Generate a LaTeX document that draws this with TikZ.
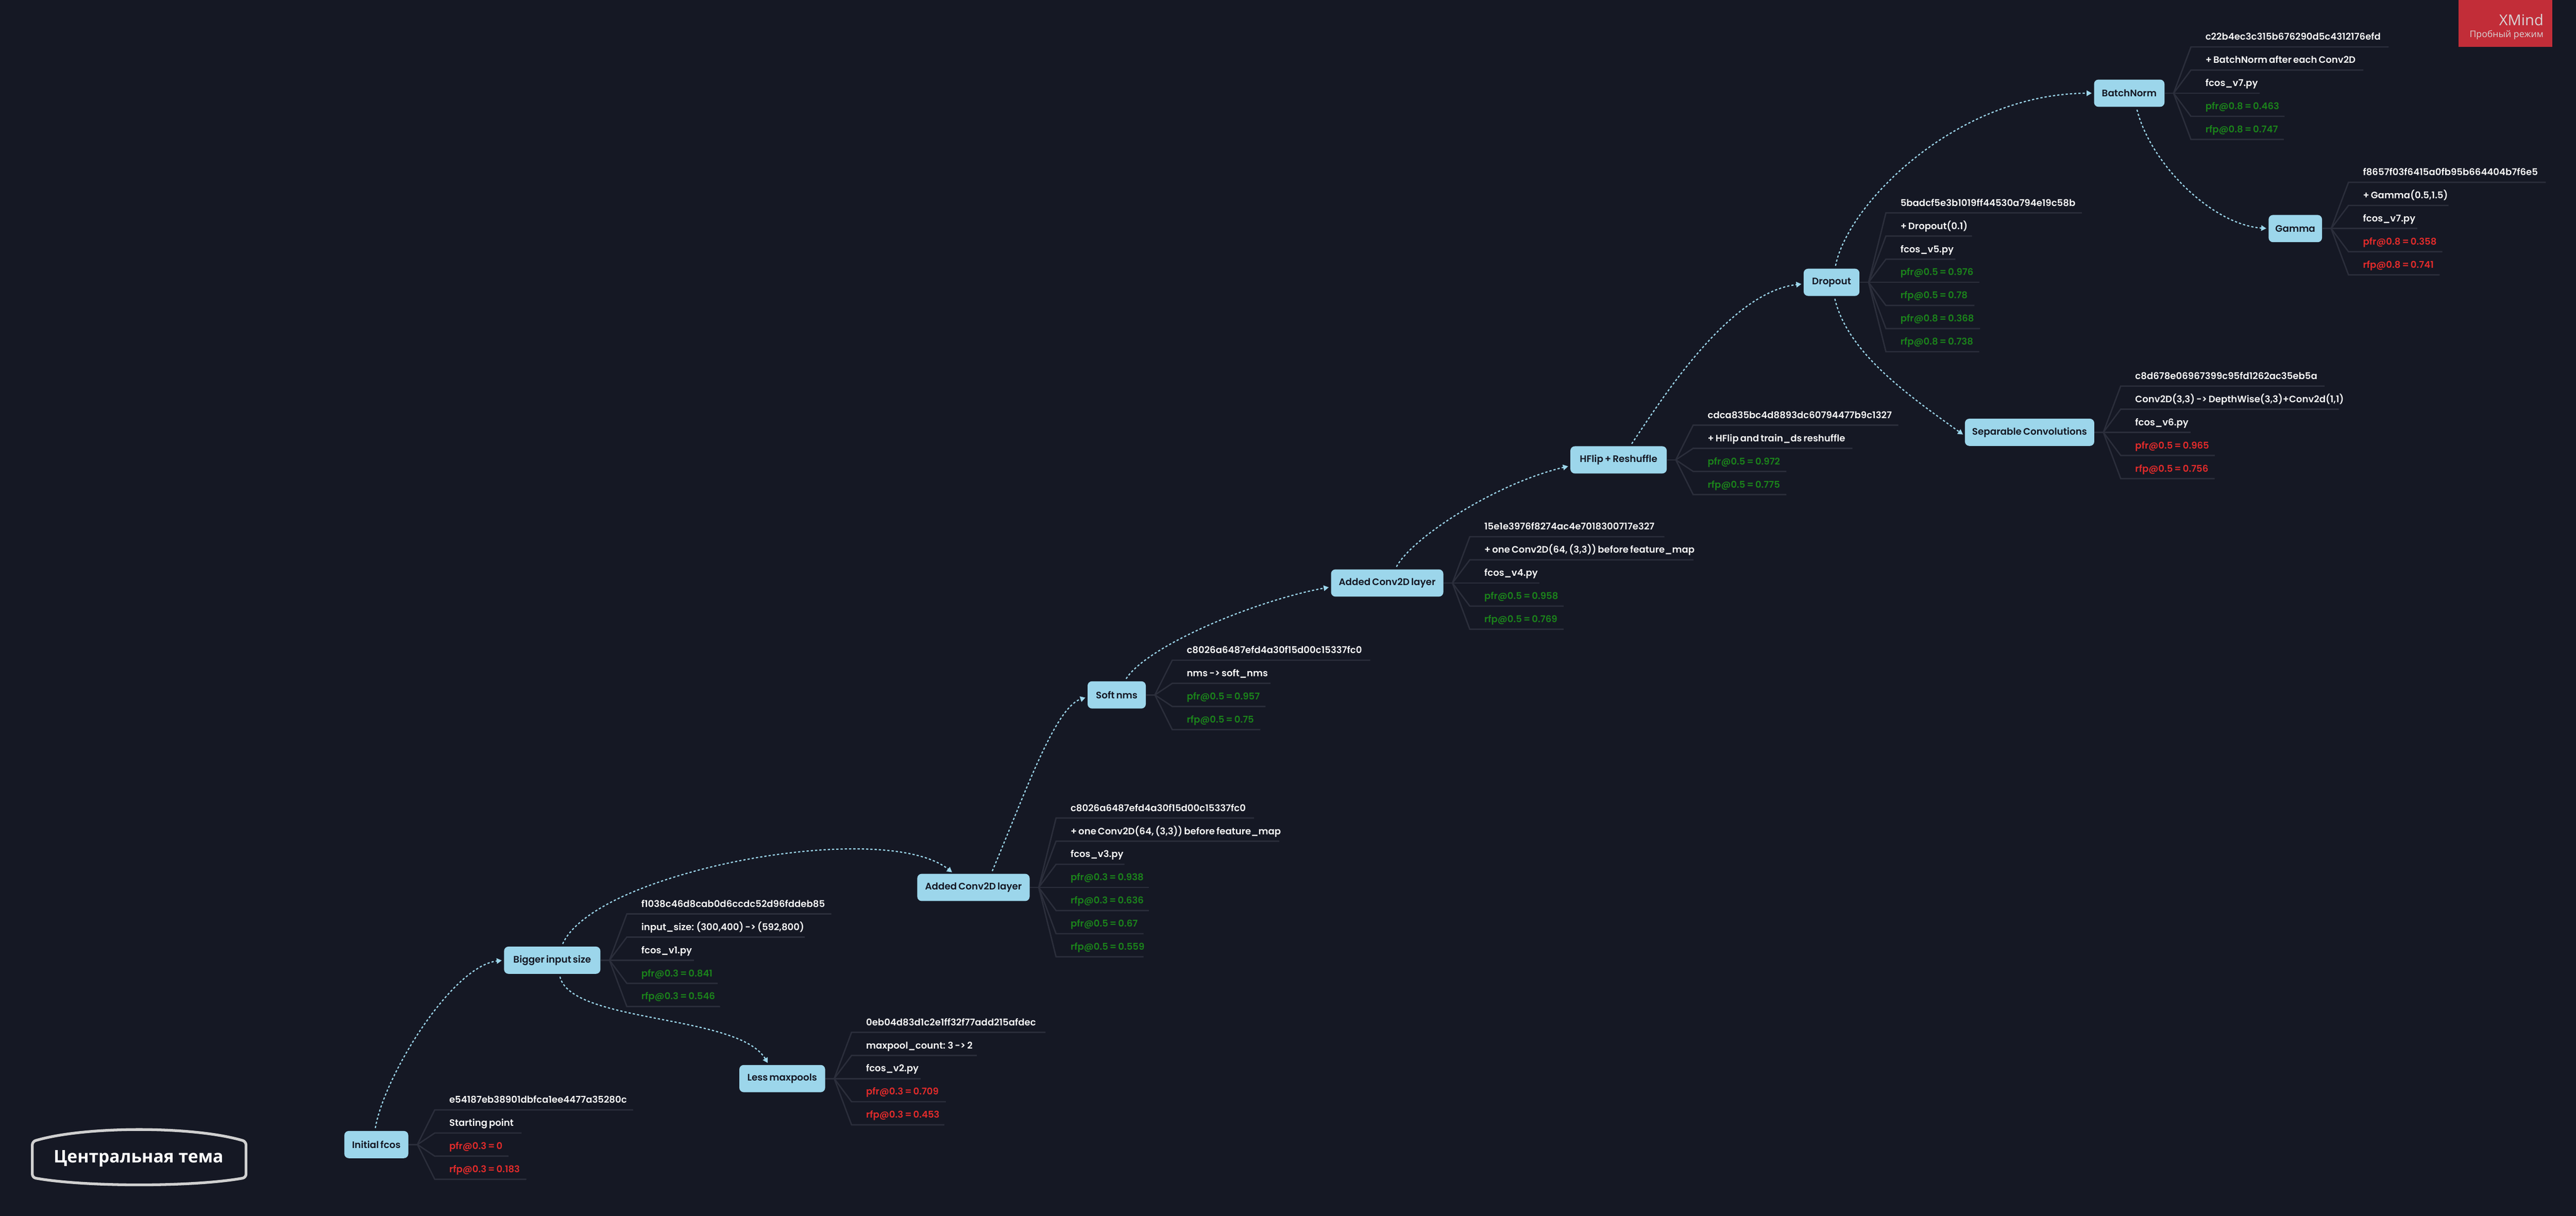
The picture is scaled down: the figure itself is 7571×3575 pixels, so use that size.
\documentclass[tikz,border=0pt]{standalone}
\usepackage{fontspec}
\usetikzlibrary{arrows.meta, calc}
\setmainfont{Poppins}[BoldFont={Poppins SemiBold}, WordSpace=0.7]
\newfontfamily\cyrfont{Open Sans}

\definecolor{canvas}{HTML}{151824}
\definecolor{topicblue}{HTML}{9CD6EB}
\definecolor{twigline}{HTML}{2B2E3B}
\definecolor{leafwhite}{HTML}{F5F5F5}
\definecolor{leafgreen}{HTML}{1B821B}
\definecolor{leafred}{HTML}{E02B2B}
\definecolor{trialred}{HTML}{C22D38}
\definecolor{triallight}{HTML}{D9D4D5}
\definecolor{centreline}{HTML}{D0D0D0}

\tikzset{
    topic/.style={fill=topicblue, text=canvas, rounded corners=0.13cm, inner sep=0pt,
        minimum height=0.80cm, font=\fontsize{7.9}{10}\selectfont\bfseries},
    leaf/.style={anchor=base west, inner sep=0pt, font=\fontsize{7.8}{10}\selectfont\bfseries},
    twig/.style={twigline, line width=0.04cm},
    link/.style={topicblue, line width=0.035cm, dash pattern=on 0.065cm off 0.06cm,
        -{Triangle[length=0.15cm, width=0.16cm]}, shorten <=0.08cm, shorten >=0.06cm},
}

% name, number of leaves, list of line length/colour/text
\newcommand{\twigs}[3]{
    \coordinate (#1fork) at ($(#1.east)+(26,0)$);
    \draw[twig] (#1.east) -- (#1fork);
    \foreach \len/\col/\txt [count=\k] in {#3}{
        \pgfmathsetmacro{\dy}{(\k-1-(#2-1)/2)*68}
        \coordinate (#1s\k) at ($(#1fork)+(51,\dy)$);
        \coordinate (#1e\k) at ($(#1s\k)+(\len,0)$);
        \draw[twig] (#1fork) -- (#1s\k) -- (#1e\k);
        \node[leaf, text=\col] (#1t\k) at ($(#1s\k)+(42,-20)$) {\txt};
    }
}

\begin{document}
\begin{tikzpicture}[x=0.01cm, y=-0.01cm]

    % Canvas
    \fill[canvas] (0,0) rectangle (7571,3575);
    \useasboundingbox (0,0) rectangle (7571,3575);

    % Trial badge
    \fill[trialred] (7225,0) rectangle (7501,138);
    \node[anchor=base east, inner sep=0pt, text=triallight, font=\fontsize{12.5}{14}\cyrfont\selectfont] (xmind) at (7476,75) {XMind};
    \node[anchor=base east, inner sep=0pt, text=triallight, font=\fontsize{7.6}{10}\cyrfont\selectfont] (trial) at (7476,110) {Пробный режим};

    % Central topic
    \draw[centreline, line width=0.08cm, rounded corners=0.1cm] (95,3407) -- (95,3356)
        .. controls (250,3310) and (568,3310) .. (723,3356) -- (723,3462)
        .. controls (568,3490) and (250,3490) .. (95,3462) -- cycle;
    \node[inner sep=0pt, text=white, font=\fontsize{14.5}{20}\cyrfont\bfseries\selectfont] (centre) at (407,3406) {Центральная тема};

    % Topics
    \node[topic, minimum width=1.88cm] (initial) at (1106,3365) {Initial fcos};
    \node[topic, minimum width=2.83cm] (bigger) at (1623,2823) {Bigger input size};
    \node[topic, minimum width=3.30cm] (added) at (2861,2609) {Added Conv2D layer};
    \node[topic, minimum width=2.52cm] (less) at (2299,3171) {Less maxpools};
    \node[topic, minimum width=1.71cm] (soft) at (3282,2043) {Soft nms};
    \node[topic, minimum width=3.30cm] (addedb) at (4077,1714) {Added Conv2D layer};
    \node[topic, minimum width=2.83cm] (hflip) at (4757,1352) {HFlip + Reshuffle};
    \node[topic, minimum width=1.64cm] (dropout) at (5383,830) {Dropout};
    \node[topic, minimum width=3.80cm] (sep) at (5965,1271) {Separable Convolutions};
    \node[topic, minimum width=2.07cm] (batch) at (6258,274) {BatchNorm};
    \node[topic, minimum width=1.57cm] (gamma) at (6746,672) {Gamma};

    % Links
    \draw[link] (initial.96) .. controls (1130,3160) and (1330,2840) .. (bigger.west);
    \draw[link] (bigger.56) .. controls (1750,2560) and (2600,2405) .. (added.145);
    \draw[link] (bigger.297) .. controls (1680,3010) and (2170,2980) .. (less.134);
    \draw[link] (added.38) .. controls (3010,2340) and (3100,2080) .. (soft.184);
    \draw[link] (soft.60) .. controls (3370,1900) and (3690,1765) .. (addedb.184);
    \draw[link] (addedb.60) .. controls (4150,1580) and (4400,1420) .. (hflip.187);
    \draw[link] (hflip.50) .. controls (4880,1180) and (5080,860) .. (dropout.183);
    \draw[link] (dropout.76) .. controls (5430,600) and (5750,275) .. (batch.west);
    \draw[link] (dropout.281) .. controls (5430,1040) and (5620,1170) .. (sep.183);
    \draw[link] (batch.297) .. controls (6320,480) and (6500,660) .. (gamma.west);

    % Leaves
    \twigs{initial}{4}{583/leafwhite/e54187eb38901dbfca1ee4477a35280c, 255/leafwhite/Starting point,
        217/leafred/pfr@0.3 = 0, 269/leafred/rfp@0.3 = 0.183}
    \twigs{bigger}{5}{601/leafwhite/f1038c46d8cab0d6ccdc52d96fddeb85, 523/leafwhite/{input\_size: (300,400) -> (592,800)},
        198/leafwhite/fcos\_v1.py, 267/leafgreen/pfr@0.3 = 0.841, 274/leafgreen/rfp@0.3 = 0.546}
    \twigs{added}{7}{582/leafwhite/c8026a6487efd4a30f15d00c15337fc0, 656/leafwhite/{+ one Conv2D(64, (3,3)) before feature\_map},
        201/leafwhite/fcos\_v3.py, 273/leafgreen/pfr@0.3 = 0.938, 273/leafgreen/rfp@0.3 = 0.636,
        257/leafgreen/pfr@0.5 = 0.67, 257/leafgreen/rfp@0.5 = 0.559}
    \twigs{less}{5}{570/leafwhite/0eb04d83d1c2e1ff32f77add215afdec, 368/leafwhite/maxpool\_count: 3 -> 2,
        203/leafwhite/fcos\_v2.py, 277/leafred/pfr@0.3 = 0.709, 273/leafred/rfp@0.3 = 0.453}
    \twigs{soft}{4}{582/leafwhite/c8026a6487efd4a30f15d00c15337fc0, 289/leafwhite/nms -> soft\_nms,
        274/leafgreen/pfr@0.5 = 0.957, 259/leafgreen/rfp@0.5 = 0.75}
    \twigs{addedb}{5}{572/leafwhite/15e1e3976f8274ac4e7018300717e327, 657/leafwhite/{+ one Conv2D(64, (3,3)) before feature\_map},
        204/leafwhite/fcos\_v4.py, 276/leafgreen/pfr@0.5 = 0.958, 276/leafgreen/rfp@0.5 = 0.769}
    \twigs{hflip}{4}{603/leafwhite/cdca835bc4d8893dc60794477b9c1327, 468/leafwhite/+ HFlip and train\_ds reshuffle,
        274/leafgreen/pfr@0.5 = 0.972, 274/leafgreen/rfp@0.5 = 0.775}
    \twigs{dropout}{7}{576/leafwhite/5badcf5e3b1019ff44530a794e19c58b, 253/leafwhite/+ Dropout(0.1),
        204/leafwhite/fcos\_v5.py, 274/leafgreen/pfr@0.5 = 0.976, 260/leafgreen/rfp@0.5 = 0.78,
        277/leafgreen/pfr@0.8 = 0.368, 274/leafgreen/rfp@0.8 = 0.738}
    \twigs{sep}{5}{599/leafwhite/c8d678e06967399c95fd1262ac35eb5a, 641/leafwhite/{Conv2D(3,3) -> DepthWise(3,3)+Conv2d(1,1)},
        206/leafwhite/fcos\_v6.py, 277/leafred/pfr@0.5 = 0.965, 276/leafred/rfp@0.5 = 0.756}
    \twigs{batch}{5}{581/leafwhite/c22b4ec3c315b676290d5c4312176efd, 507/leafwhite/+ BatchNorm after each Conv2D,
        202/leafwhite/fcos\_v7.py, 275/leafgreen/pfr@0.8 = 0.463, 273/leafgreen/rfp@0.8 = 0.747}
    \twigs{gamma}{5}{580/leafwhite/f8657f03f6415a0fb95b664404b7f6e5, 294/leafwhite/{+ Gamma(0.5,1.5)},
        202/leafwhite/fcos\_v7.py, 276/leafred/pfr@0.8 = 0.358, 268/leafred/rfp@0.8 = 0.741}

\end{tikzpicture}
\end{document}
